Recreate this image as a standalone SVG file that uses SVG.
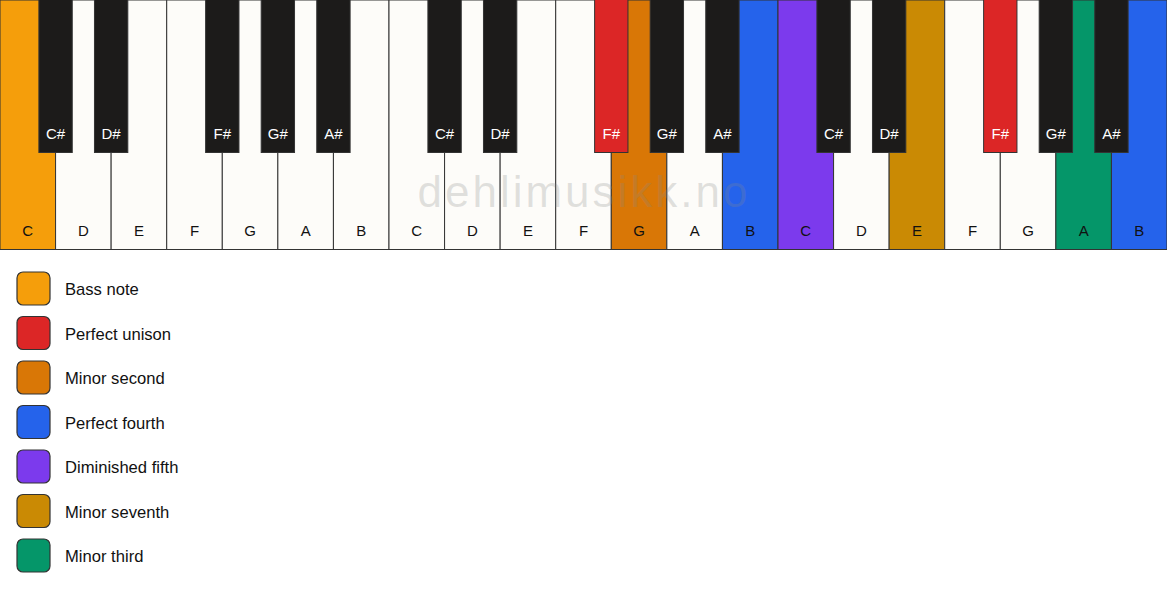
<svg xmlns="http://www.w3.org/2000/svg" width="1167" height="594" viewBox="0 0 1167 594">
<style>
.w{fill:#fdfcf9;stroke:#333;stroke-width:1}
.b{fill:#1c1b1a;stroke:#333;stroke-width:1}
.wl{font-family:"Liberation Sans",Arial,sans-serif;font-size:15px;fill:#111;text-anchor:middle}
.bl{font-family:"Liberation Sans",Arial,sans-serif;font-size:15px;fill:#fff;text-anchor:middle}
.sw{stroke:#333;stroke-width:1.2}
.lt{font-family:"Liberation Sans",Arial,sans-serif;font-size:16.6px;fill:#111}
.wm{font-family:"Liberation Sans",Arial,sans-serif;font-size:44px;fill:#888;fill-opacity:0.25;text-anchor:middle;letter-spacing:3px}
</style>
<rect width="1167" height="594" fill="#ffffff"/>
<g id="white-keys">
<rect class="w" x="0" y="0" width="55.571" height="249.5" style="fill:#f59e0b"/>
<rect class="w" x="55.571" y="0" width="55.571" height="249.5"/>
<rect class="w" x="111.143" y="0" width="55.571" height="249.5"/>
<rect class="w" x="166.714" y="0" width="55.571" height="249.5"/>
<rect class="w" x="222.286" y="0" width="55.571" height="249.5"/>
<rect class="w" x="277.857" y="0" width="55.571" height="249.5"/>
<rect class="w" x="333.429" y="0" width="55.571" height="249.5"/>
<rect class="w" x="389" y="0" width="55.571" height="249.5"/>
<rect class="w" x="444.571" y="0" width="55.571" height="249.5"/>
<rect class="w" x="500.143" y="0" width="55.571" height="249.5"/>
<rect class="w" x="555.714" y="0" width="55.571" height="249.5"/>
<rect class="w" x="611.286" y="0" width="55.571" height="249.5" style="fill:#d97706"/>
<rect class="w" x="666.857" y="0" width="55.571" height="249.5"/>
<rect class="w" x="722.429" y="0" width="55.571" height="249.5" style="fill:#2563eb"/>
<rect class="w" x="778" y="0" width="55.571" height="249.5" style="fill:#7c3aed"/>
<rect class="w" x="833.571" y="0" width="55.571" height="249.5"/>
<rect class="w" x="889.143" y="0" width="55.571" height="249.5" style="fill:#ca8a04"/>
<rect class="w" x="944.714" y="0" width="55.571" height="249.5"/>
<rect class="w" x="1000.286" y="0" width="55.571" height="249.5"/>
<rect class="w" x="1055.857" y="0" width="55.571" height="249.5" style="fill:#059669"/>
<rect class="w" x="1111.429" y="0" width="55.571" height="249.5" style="fill:#2563eb"/>
</g>
<g id="white-labels">
<text class="wl" x="27.79" y="235.5">C</text>
<text class="wl" x="83.36" y="235.5">D</text>
<text class="wl" x="138.93" y="235.5">E</text>
<text class="wl" x="194.5" y="235.5">F</text>
<text class="wl" x="250.07" y="235.5">G</text>
<text class="wl" x="305.64" y="235.5">A</text>
<text class="wl" x="361.21" y="235.5">B</text>
<text class="wl" x="416.79" y="235.5">C</text>
<text class="wl" x="472.36" y="235.5">D</text>
<text class="wl" x="527.93" y="235.5">E</text>
<text class="wl" x="583.5" y="235.5">F</text>
<text class="wl" x="639.07" y="235.5">G</text>
<text class="wl" x="694.64" y="235.5">A</text>
<text class="wl" x="750.21" y="235.5">B</text>
<text class="wl" x="805.79" y="235.5">C</text>
<text class="wl" x="861.36" y="235.5">D</text>
<text class="wl" x="916.93" y="235.5">E</text>
<text class="wl" x="972.5" y="235.5">F</text>
<text class="wl" x="1028.07" y="235.5">G</text>
<text class="wl" x="1083.64" y="235.5">A</text>
<text class="wl" x="1139.21" y="235.5">B</text>
</g>
<g id="black-keys">
<rect class="b" x="38.9" y="-1" width="33.34" height="153.5"/>
<rect class="b" x="94.47" y="-1" width="33.34" height="153.5"/>
<rect class="b" x="205.62" y="-1" width="33.34" height="153.5"/>
<rect class="b" x="261.19" y="-1" width="33.34" height="153.5"/>
<rect class="b" x="316.76" y="-1" width="33.34" height="153.5"/>
<rect class="b" x="427.9" y="-1" width="33.34" height="153.5"/>
<rect class="b" x="483.47" y="-1" width="33.34" height="153.5"/>
<rect class="b" x="594.62" y="-1" width="33.34" height="153.5" style="fill:#dc2626"/>
<rect class="b" x="650.19" y="-1" width="33.34" height="153.5"/>
<rect class="b" x="705.76" y="-1" width="33.34" height="153.5"/>
<rect class="b" x="816.9" y="-1" width="33.34" height="153.5"/>
<rect class="b" x="872.47" y="-1" width="33.34" height="153.5"/>
<rect class="b" x="983.62" y="-1" width="33.34" height="153.5" style="fill:#dc2626"/>
<rect class="b" x="1039.19" y="-1" width="33.34" height="153.5"/>
<rect class="b" x="1094.76" y="-1" width="33.34" height="153.5"/>
</g>
<g id="black-labels">
<text class="bl" x="55.57" y="138.5">C#</text>
<text class="bl" x="111.14" y="138.5">D#</text>
<text class="bl" x="222.29" y="138.5">F#</text>
<text class="bl" x="277.86" y="138.5">G#</text>
<text class="bl" x="333.43" y="138.5">A#</text>
<text class="bl" x="444.57" y="138.5">C#</text>
<text class="bl" x="500.14" y="138.5">D#</text>
<text class="bl" x="611.29" y="138.5">F#</text>
<text class="bl" x="666.86" y="138.5">G#</text>
<text class="bl" x="722.43" y="138.5">A#</text>
<text class="bl" x="833.57" y="138.5">C#</text>
<text class="bl" x="889.14" y="138.5">D#</text>
<text class="bl" x="1000.29" y="138.5">F#</text>
<text class="bl" x="1055.86" y="138.5">G#</text>
<text class="bl" x="1111.43" y="138.5">A#</text>
</g>
<text class="wm" x="584" y="207">dehlimusikk.no</text>
<g id="legend">
<g id="legend-bass"><rect class="sw" x="17" y="272" width="33" height="33" rx="6" fill="#f59e0b"/><text class="lt" x="65" y="295">Bass note</text></g>
<g id="legend-unison"><rect class="sw" x="17" y="316.5" width="33" height="33" rx="6" fill="#dc2626"/><text class="lt" x="65" y="339.5">Perfect unison</text></g>
<g id="legend-m2"><rect class="sw" x="17" y="361" width="33" height="33" rx="6" fill="#d97706"/><text class="lt" x="65" y="384">Minor second</text></g>
<g id="legend-p4"><rect class="sw" x="17" y="405.5" width="33" height="33" rx="6" fill="#2563eb"/><text class="lt" x="65" y="428.5">Perfect fourth</text></g>
<g id="legend-d5"><rect class="sw" x="17" y="450" width="33" height="33" rx="6" fill="#7c3aed"/><text class="lt" x="65" y="473">Diminished fifth</text></g>
<g id="legend-m7"><rect class="sw" x="17" y="494.5" width="33" height="33" rx="6" fill="#ca8a04"/><text class="lt" x="65" y="517.5">Minor seventh</text></g>
<g id="legend-m3"><rect class="sw" x="17" y="539" width="33" height="33" rx="6" fill="#059669"/><text class="lt" x="65" y="562">Minor third</text></g>
</g>
</svg>
